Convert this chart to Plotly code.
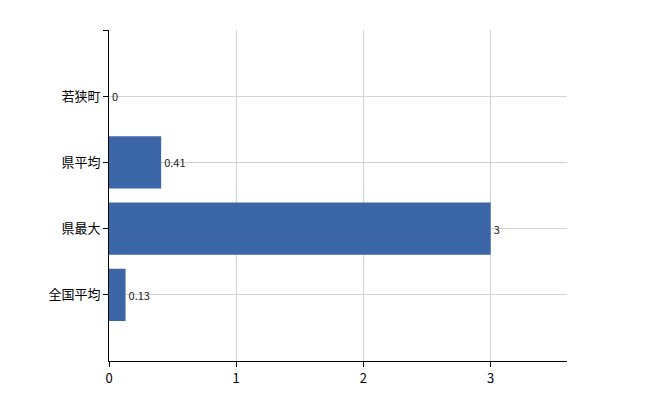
import plotly.graph_objects as go

categories = ["全国平均", "県最大", "県平均", "若狭町"]
values = [0.13, 3, 0.41, 0]
labels = ["0.13", "3", "0.41", "0"]
positions = [0, 1, 2, 3]

fig = go.Figure(go.Bar(
    x=values, y=positions, orientation="h", width=0.79,
    marker=dict(color="#3b67a9", line=dict(width=0)),
    text=labels, textposition="outside", cliponaxis=False,
    textfont=dict(size=11, color="#222", family="Noto Sans CJK JP"),
    hoverinfo="skip"))

fig.update_layout(
    width=650, height=400, plot_bgcolor="white", paper_bgcolor="white",
    margin=dict(l=101, r=91, t=22, b=47, pad=0), showlegend=False,
    font=dict(family="Noto Sans CJK JP", size=13, color="#000"),
    xaxis=dict(range=[0, 3.6], tickvals=[0, 1, 2, 3], showgrid=True,
               gridcolor="#d3d3d3", showline=True, linecolor="#000",
               ticks="outside", ticklen=5, tickcolor="#000", zeroline=False,
               automargin=False),
    yaxis=dict(range=[-1, 4], tickvals=positions + [4],
               ticktext=categories + [""],
               showgrid=True, gridcolor="#d3d3d3", showline=True,
               linecolor="#000", ticks="outside", ticklen=5,
               tickcolor="#000", zeroline=False, automargin=False),
)
fig.write_html("out.html")
